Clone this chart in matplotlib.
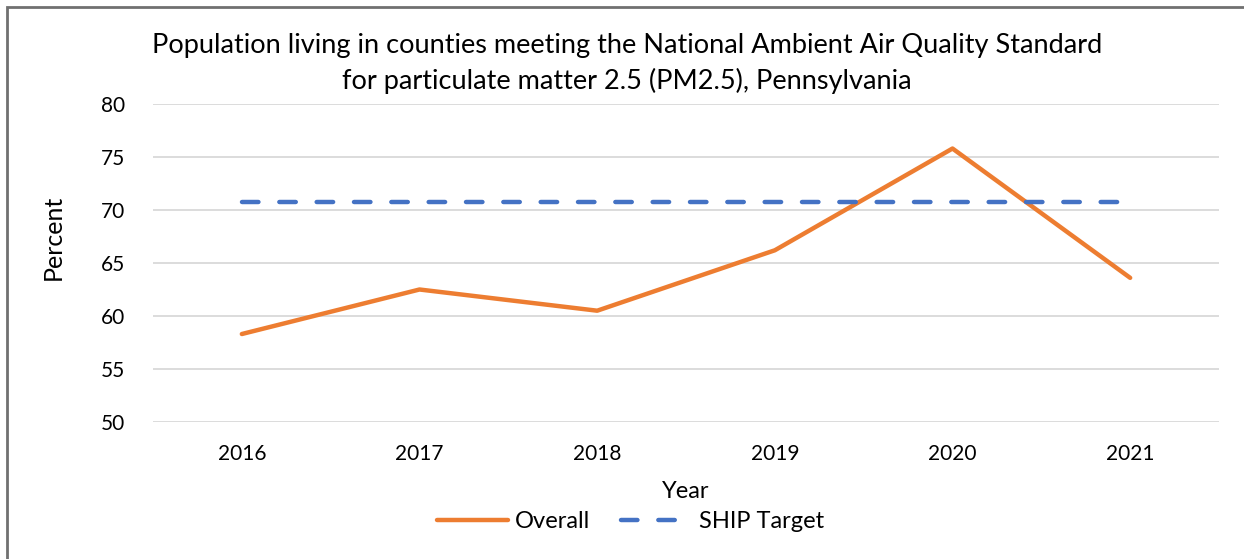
import matplotlib.pyplot as plt
from matplotlib.patches import Rectangle

years = ['2016', '2017', '2018', '2019', '2020', '2021']
overall = [58.3, 62.5, 60.5, 66.2, 75.8, 63.6]
ship_target = [70.8, 70.8, 70.8, 70.8, 70.8, 70.8]

plt.rcParams['font.family'] = ['Lato', 'DejaVu Sans']

fig = plt.figure(figsize=(12.44, 5.59), dpi=100)
ax = fig.add_axes([153 / 1244, 137 / 559, 1066 / 1244, 318 / 559])

x = range(len(years))
ax.plot(x, overall, color='#ED7D31', linewidth=3.2, label='Overall', solid_capstyle='round')
ax.plot(x, ship_target, color='#4472C4', linewidth=3.2, linestyle=(0, (3.7, 4.7)),
        label='SHIP Target', dash_capstyle='round')

ax.set_xlim(-0.5, len(years) - 0.5)
ax.set_ylim(50, 80)
ax.set_yticks(range(50, 81, 5))
ax.set_xticks(list(x))
ax.set_xticklabels(years)
ax.grid(axis='y', color='#D9D9D9', linewidth=1.3)
ax.set_axisbelow(True)
for s in ax.spines.values():
    s.set_visible(False)
ax.tick_params(length=0, labelsize=15, pad=16)
ax.tick_params(axis='y', pad=20)

ax.set_ylabel('Percent', fontsize=18)
ax.yaxis.set_label_coords(-0.083, 0.58)
ax.set_xlabel('Year', fontsize=17, labelpad=12)

fig.text(0.504, 1 - 46 / 559, 'Population living in counties meeting the National Ambient Air Quality Standard',
         ha='center', va='center', fontsize=19.5)
fig.text(0.504, 1 - 81 / 559, 'for particulate matter 2.5 (PM2.5), Pennsylvania',
         ha='center', va='center', fontsize=19.5)

fig.legend(loc='center', bbox_to_anchor=(0.507, 1 - 522 / 559), ncol=2, frameon=False,
           fontsize=17, handlelength=3, columnspacing=1.3, handletextpad=0.3)

fig.patches.append(Rectangle((7 / 1244, -0.1), 1.2, 1.1 - 7 / 559, transform=fig.transFigure,
                             fill=False, edgecolor='#707070', linewidth=2))

fig.savefig('out.png', dpi=100)
